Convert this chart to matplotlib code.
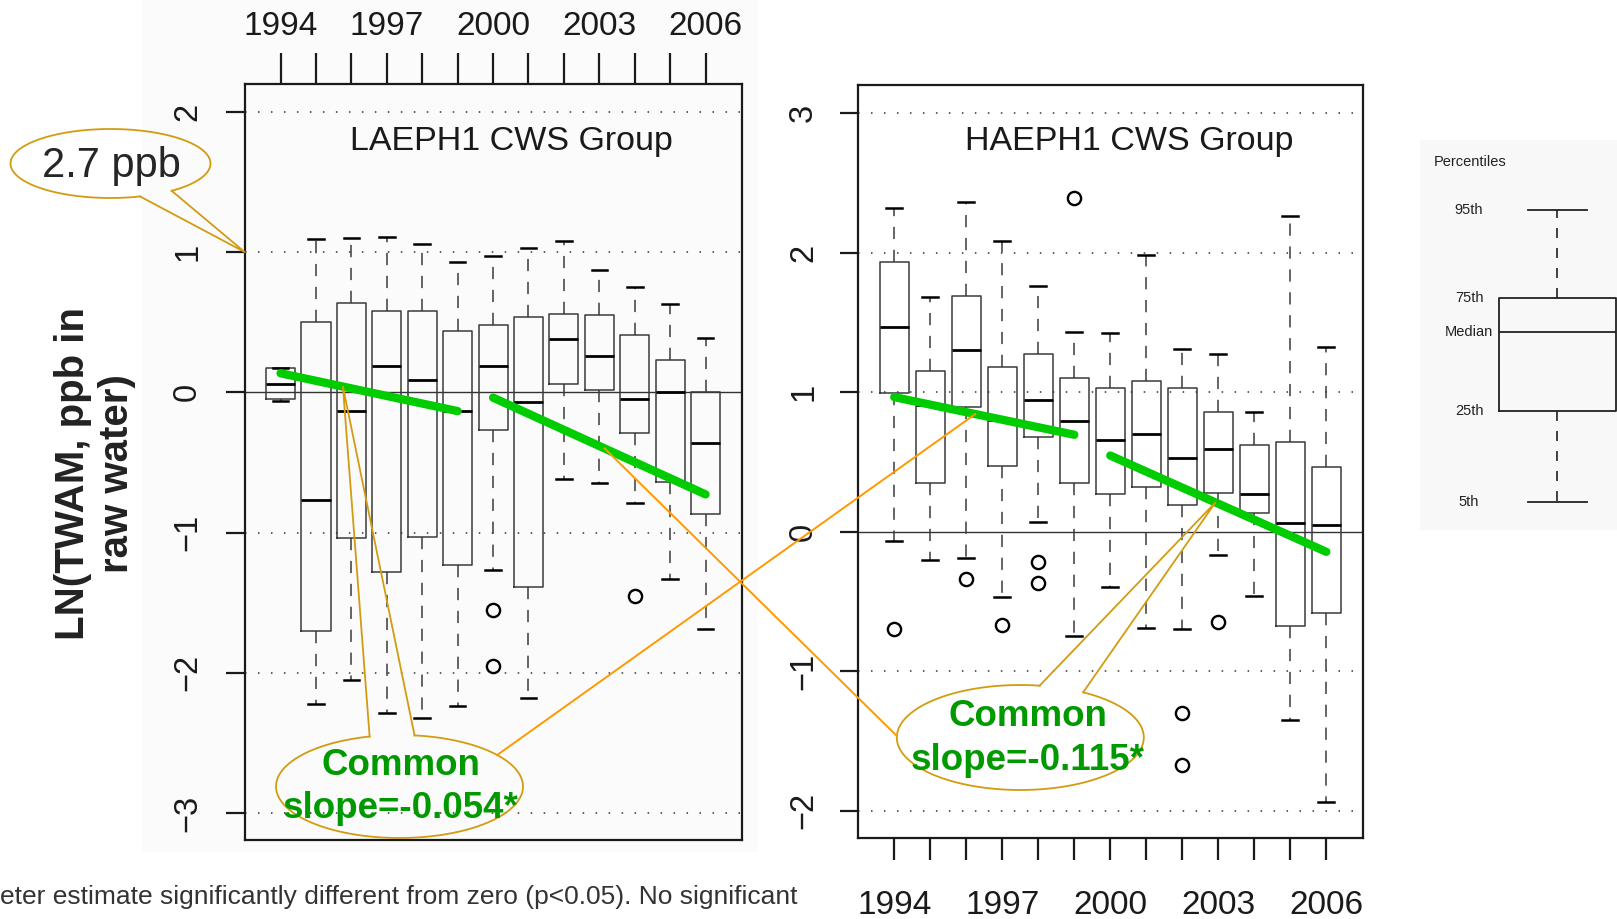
import numpy as np
import matplotlib
matplotlib.use("Agg")
import matplotlib.pyplot as plt
from matplotlib.patches import Rectangle

plt.rcParams["font.family"] = ["Liberation Sans", "DejaVu Sans"]

# ---------------------------------------------------------------- data
years = [1994, 1995, 1996, 1997, 1998, 1999, 2000, 2001, 2002, 2003, 2004, 2005, 2006]
year_labels = ["1994", "", "", "1997", "", "", "2000", "", "", "2003", "", "", "2006"]

# LAEPH1 group: 5th / 25th / median / 75th / 95th percentiles of ln(TWAM)
la_p05 = [-0.06, -2.22, -2.05, -2.29, -2.32, -2.24, -1.27, -2.18, -0.62, -0.65, -0.79, -1.33, -1.69]
la_p25 = [-0.05, -1.70, -1.04, -1.28, -1.03, -1.23, -0.27, -1.39, 0.06, 0.02, -0.29, -0.64, -0.87]
la_p50 = [0.06, -0.77, -0.13, 0.19, 0.09, -0.13, 0.19, -0.07, 0.38, 0.26, -0.05, 0.00, -0.36]
la_p75 = [0.17, 0.50, 0.64, 0.58, 0.58, 0.44, 0.48, 0.54, 0.56, 0.55, 0.41, 0.23, 0.00]
la_p95 = [0.17, 1.09, 1.10, 1.11, 1.06, 0.93, 0.97, 1.03, 1.08, 0.87, 0.75, 0.63, 0.39]
la_out = {2000: [-1.55, -1.95], 2004: [-1.45]}

# HAEPH1 group
ha_p05 = [-0.07, -0.20, -0.19, -0.47, 0.07, -0.75, -0.40, -0.69, -0.70, -0.17, -0.46, -1.35, -1.94]
ha_p25 = [0.99, 0.35, 0.89, 0.47, 0.68, 0.35, 0.27, 0.32, 0.19, 0.28, 0.13, -0.68, -0.58]
ha_p50 = [1.47, 0.91, 1.30, 0.80, 0.94, 0.79, 0.66, 0.70, 0.53, 0.59, 0.27, 0.06, 0.05]
ha_p75 = [1.93, 1.15, 1.69, 1.18, 1.27, 1.10, 1.03, 1.08, 1.03, 0.86, 0.62, 0.64, 0.46]
ha_p95 = [2.32, 1.68, 2.36, 2.08, 1.76, 1.43, 1.42, 1.98, 1.31, 1.27, 0.86, 2.26, 1.32]
ha_out = {1994: [-0.70], 1996: [-0.34], 1997: [-0.67], 1998: [-0.22, -0.37],
          1999: [2.39], 2002: [-1.30, -1.67], 2003: [-0.65]}

# fitted common slopes (per year) and segment start values
slope_early = -0.054
slope_late = -0.115
early_years = (1994, 1999)
late_years = (2000, 2006)
la_early_start, la_late_start = 0.136, -0.038
ha_early_start, ha_late_start = 0.964, 0.545

la_yticks = [-3, -2, -1, 0, 1, 2]
ha_yticks = [-2, -1, 0, 1, 2, 3]
ref_ppb_ln = 1.0          # ln(2.7 ppb)

legend_stats = {"whislo": 0.0, "q1": 1.04, "med": 1.93, "q3": 2.32, "whishi": 3.32}
legend_names = {"whishi": "95th", "q3": "75th", "med": "Median", "q1": "25th", "whislo": "5th"}

# ---------------------------------------------------------------- figure
W, H = 1617, 919
fig = plt.figure(figsize=(W / 100, H / 100), dpi=100)
fig.patch.set_facecolor("white")


def px_axes(x0, y0, x1, y1, **kw):
    """Axes placed by pixel box (top-left origin)."""
    return fig.add_axes([x0 / W, (H - y1) / H, (x1 - x0) / W, (y1 - y0) / H], **kw)


bg = px_axes(0, 0, W, H, zorder=-5)
bg.set_xlim(0, W)
bg.set_ylim(H, 0)
bg.axis("off")
bg.add_patch(Rectangle((142, 0), 616, 852, color="#FBFBFB", lw=0))

INK = "#1a1a1a"
BOXC = "#3a3a3a"


def stats_for(p05, p25, p50, p75, p95, out):
    st = []
    for i, yr in enumerate(years):
        st.append({"whislo": p05[i], "q1": p25[i], "med": p50[i], "q3": p75[i],
                   "whishi": p95[i], "fliers": out.get(yr, [])})
    return st


def draw_panel(ax, stats, yticks, ylim, title, tx, early0, late0):
    ax.set_facecolor("none")
    ax.bxp(stats, positions=years, widths=0.82, capwidths=0.44, manage_ticks=False,
           boxprops=dict(color=BOXC, lw=1.1),
           medianprops=dict(color="black", lw=2.0),
           whiskerprops=dict(color=BOXC, lw=1.1, linestyle=(0, (8, 7))),
           capprops=dict(color="black", lw=1.8),
           flierprops=dict(marker="o", mfc="none", mec="black", ms=9.5, mew=1.7),
           zorder=3)
    ax.set_xlim(1992.99, 2007.02)
    ax.set_ylim(*ylim)
    for v in yticks:
        if v == 0:
            ax.axhline(v, color="#333333", lw=1.0, zorder=1)
        else:
            ax.axhline(v, color="#333333", lw=1.1, ls=(0, (1, 7.5)), zorder=1)
    # common-slope trend segments
    for (ya, yb), s, y0 in ((early_years, slope_early, early0), (late_years, slope_late, late0)):
        xs = np.array([ya, yb])
        ax.plot(xs, y0 + s * (xs - ya), color="#00CC00", lw=6, solid_capstyle="round", zorder=5)
    ax.set_yticks(yticks)
    ax.set_yticklabels([f"{v}".replace("-", "\u2212") for v in yticks], rotation=90, va="center")
    ax.set_xticks(years)
    ax.set_xticklabels(year_labels)
    for sp in ax.spines.values():
        sp.set_linewidth(1.6)
        sp.set_color(INK)
    ax.text(tx, 0.913, title, transform=ax.transAxes, ha="center", va="baseline",
            fontsize=24.5, color=INK)


axL = px_axes(244.8, 84, 741.7, 840)
draw_panel(axL, stats_for(la_p05, la_p25, la_p50, la_p75, la_p95, la_out),
           la_yticks, (-3.193, 2.199), "LAEPH1 CWS Group", 0.536, la_early_start, la_late_start)
axL.xaxis.tick_top()
axL.tick_params(axis="x", length=22, width=1.6, pad=8.5, labelsize=24, colors=INK)
axL.tick_params(axis="y", length=14, width=1.6, pad=16, labelsize=23.5, colors=INK)

axR = px_axes(857.9, 85, 1363.4, 837.7)
draw_panel(axR, stats_for(ha_p05, ha_p25, ha_p50, ha_p75, ha_p95, ha_out),
           ha_yticks, (-2.194, 3.201), "HAEPH1 CWS Group", 0.536, ha_early_start, ha_late_start)
axR.set_facecolor("white")
axR.set_xlim(1992.99, 2007.03)
axR.tick_params(axis="x", length=16, width=1.6, pad=22, labelsize=24, colors=INK)
axR.tick_params(axis="y", length=13, width=1.6, pad=15, labelsize=23.5, colors=INK)

# ---------------------------------------------------------------- percentile key
lg = px_axes(1420, 140, W, 530)
lg.set_facecolor("#F8F8F8")
for sp in lg.spines.values():
    sp.set_visible(False)
lg.set_xticks([])
lg.set_yticks([])
lg.bxp([dict(legend_stats, fliers=[])], positions=[0], widths=1.0, capwidths=0.5,
       manage_ticks=False,
       boxprops=dict(color="#222222", lw=1.3), medianprops=dict(color="#222222", lw=1.3),
       whiskerprops=dict(color="#222222", lw=1.2, linestyle=(0, (6, 6))),
       capprops=dict(color="#222222", lw=1.3))
lg.set_xlim(-1.175, 0.5085)
lg.set_ylim(-0.315, 4.117)
narrow = ["Liberation Sans Narrow", "Liberation Sans"]
for key, name in legend_names.items():
    lg.text(-0.756, legend_stats[key], name, ha="center", va="center", fontsize=10.5,
            family=narrow, color="#222222")
lg.text(-0.75, 3.87, "Percentiles", ha="center", va="center", fontsize=10.5,
        family=narrow, color="#222222")

# ---------------------------------------------------------------- annotations layer
ov = px_axes(0, 0, W, H, zorder=10)
ov.set_xlim(0, W)
ov.set_ylim(H, 0)
ov.axis("off")
ov.patch.set_alpha(0)


def to_ov(ax, x, y):
    return ov.transData.inverted().transform(ax.transData.transform((x, y)))


def trend_pt(ax, yr, start, period, slope):
    return to_ov(ax, yr, start + slope * (yr - period[0]))


def ell_pt(cx, cy, a, b, t):
    t = np.radians(t)
    return cx + a * np.cos(t), cy + b * np.sin(t)


GOLD = "#D29C10"
ORANGE = "#FF9900"


def callout(cx, cy, a, b, gap, tip, color=GOLD, lw=1.3):
    t = np.radians(np.linspace(gap[1], gap[0] + 360, 300))
    ov.plot(cx + a * np.cos(t), cy + b * np.sin(t), color=color, lw=lw)
    p0 = ell_pt(cx, cy, a, b, gap[0])
    p1 = ell_pt(cx, cy, a, b, gap[1])
    ov.plot([p0[0], tip[0], p1[0]], [p0[1], tip[1], p1[1]], color=color, lw=lw)


# 2.7 ppb reference callout pointing at ln = 1 on the left axis
callout(110.5, 163.5, 100, 34.5, (52.3, 72.8), to_ov(axL, axL.get_xlim()[0], ref_ppb_ln))
ov.text(111, 166, "2.7 ppb", ha="center", va="center", fontsize=30, color="#262626")

# common slope callouts
GREEN_TXT = "#009A00"
tipL = trend_pt(axL, 1995.76, la_early_start, early_years, slope_early)
callout(399.5, 786.5, 123.5, 51.5, (-104, -83), tipL)
ov.text(400.8, 787, f"Common\nslope={slope_early:.3f}*", ha="center", va="center",
        fontsize=26.5, weight="bold", color=GREEN_TXT, linespacing=1.32)

tipR = trend_pt(axR, 2002.92, ha_late_start, late_years, slope_late)
callout(1020.3, 737.5, 123.5, 52.5, (-81, -59.4), tipR)
ov.text(1027.7, 738.5, f"Common\nslope={slope_late:.3f}*", ha="center", va="center",
        fontsize=26.5, weight="bold", color=GREEN_TXT, linespacing=1.32)

# leader lines linking each slope to the matching segment in the other panel
a0 = ell_pt(399.5, 786.5, 123.5, 51.5, -37.7)
a1 = trend_pt(axR, 1996.25, ha_early_start, early_years, slope_early)
ov.plot([a0[0], a1[0]], [a0[1], a1[1]], color=ORANGE, lw=1.4)
b0 = trend_pt(axL, 2003.15, la_late_start, late_years, slope_late)
b1 = ell_pt(1020.3, 737.5, 123.5, 52.5, 181.7)
ov.plot([b0[0], b1[0]], [b0[1], b1[1]], color=ORANGE, lw=1.4)

# axis title and footnote
ov.text(95, 474, "LN(TWAM, ppb in\nraw water)", rotation=90, ha="center", va="center",
        fontsize=29, weight="bold", color="#222222", linespacing=1.2)
ov.text(0, 897, "eter estimate significantly different from zero (p<0.05). No significant",
        ha="left", va="center", fontsize=19, family=narrow, color="#333333")

fig.savefig("out.png", dpi=100)
